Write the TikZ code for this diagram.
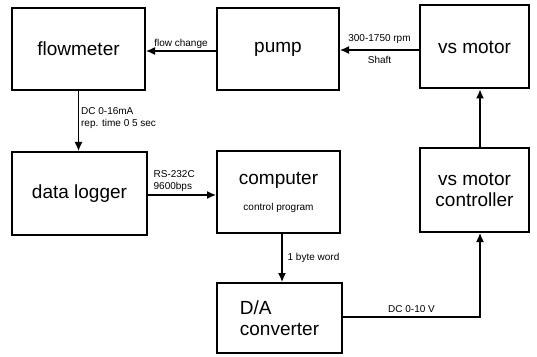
\documentclass[tikz,border=0pt]{standalone}
\usepackage{fontspec}
\setmainfont{Liberation Sans}
\usetikzlibrary{arrows.meta}

\begin{document}
\begin{tikzpicture}[x=1pt, y=1pt,
    box/.style={draw, line width=2pt, font=\fontsize{19}{21}\selectfont},
    lbl/.style={font=\fontsize{10}{11.5}\selectfont, inner sep=2pt},
    flow/.style={line width=1.3pt, -{Latex[length=9pt, width=8pt]}}]
  \useasboundingbox (0, 0) rectangle (537, 356);

  % Top row
  \node[box, minimum width=133, minimum height=82] (flowmeter) at (78.5, 307) {flowmeter};
  \node[box, minimum width=122, minimum height=82] (pump) at (278, 307) {pump};
  \node[box, minimum width=109, minimum height=83] (vsmotor) at (474.5, 309) {vs motor};

  % Middle row
  \node[box, minimum width=135, minimum height=83] (logger) at (79.5, 162.5) {data logger};
  \node[box, minimum width=123, minimum height=82, align=center] (computer) at (278.5, 164)
    {computer\\[5pt]{\fontsize{10}{11.5}\selectfont control program}};
  \node[box, minimum width=109, minimum height=84, align=center] (controller) at (474.5, 166)
    {vs motor\\controller};

  % Bottom row
  \node[box, minimum width=125, minimum height=70, align=left] (da) at (279.5, 38)
    {D/A\\converter};

  % Connections
  \draw[flow] (pump.west |- 0, 305) -- (flowmeter.east |- 0, 305)
    node[lbl, midway, above] {flow change};
  \draw[flow] (vsmotor.west |- 0, 306) -- (pump.east |- 0, 306)
    node[lbl, midway, above, yshift=4pt] {300-1750 rpm}
    node[lbl, midway, below, yshift=-4pt] {Shaft};
  \draw[flow] (flowmeter.south) -- (flowmeter.south |- logger.north)
    node[lbl, midway, right, align=left, yshift=3pt] {DC 0-16mA\\rep. time 0 5 sec};
  \draw[flow] (logger.east |- 0, 161) -- (computer.west |- 0, 161)
    node[lbl, pos=0, above right, align=left, xshift=3pt, yshift=1pt] {RS-232C\\9600bps};
  \draw[flow] (computer.south -| 282, 0) -- (da.north -| 282, 0)
    node[lbl, midway, right, xshift=3pt] {1 byte word};
  \draw[flow] (da.east |- 0, 39) -| (controller.south -| 480, 0)
    node[lbl, pos=0.25, above, yshift=2pt] {DC 0-10 V};
  \draw[flow] (controller.north -| 480, 0) -- (vsmotor.south -| 480, 0);
\end{tikzpicture}
\end{document}
